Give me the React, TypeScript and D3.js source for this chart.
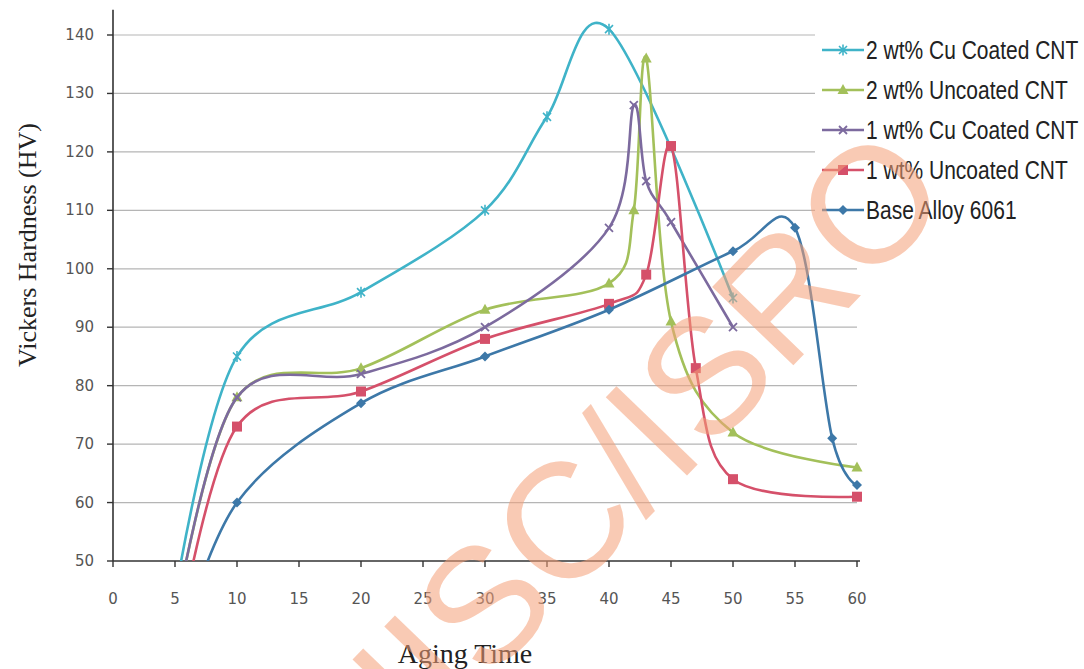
import React from 'react';
import * as d3 from 'd3';

const width = 1084, height = 669;
const margin = { top: 35, right: 227, bottom: 108, left: 113 };

// tick values
const xTicks = [0, 5, 10, 15, 20, 25, 30, 35, 40, 45, 50, 55, 60];
const yTicks = [50, 60, 70, 80, 90, 100, 110, 120, 130, 140];
const gridTicks = [60, 70, 80, 90, 100, 110, 120, 130, 140];

// series values: [aging time, hardness]
const cuCoated2: [number, number][] = [[5, 44], [10, 85], [20, 96], [30, 110], [35, 126], [40, 141], [50, 95]];
const uncoated2: [number, number][] = [[5, 40], [10, 78], [20, 83], [30, 93], [40, 97.5], [42, 110], [43, 136], [45, 91], [50, 72], [60, 66]];
const cuCoated1: [number, number][] = [[5, 40], [10, 78], [20, 82], [30, 90], [40, 107], [42, 128], [43, 115], [45, 108], [50, 90]];
const uncoated1: [number, number][] = [[5, 34], [10, 73], [20, 79], [30, 88], [40, 94], [43, 99], [45, 121], [47, 83], [50, 64], [60, 61]];
const base6061: [number, number][] = [[5, 33], [10, 60], [20, 77], [30, 85], [40, 93], [50, 103], [55, 107], [58, 71], [60, 63]];

const seriesNames = ['2 wt% Cu Coated CNT', '2 wt% Uncoated CNT', '1 wt% Cu Coated CNT', '1 wt% Uncoated CNT', 'Base Alloy 6061'];

const series = [
    { name: seriesNames[0], data: cuCoated2, color: '#3fb3c8', marker: 'star' },
    { name: seriesNames[1], data: uncoated2, color: '#a3c05a', marker: 'triangle' },
    { name: seriesNames[2], data: cuCoated1, color: '#7c6a9e', marker: 'x' },
    { name: seriesNames[3], data: uncoated1, color: '#d5506a', marker: 'square' },
    { name: seriesNames[4], data: base6061, color: '#3d78a8', marker: 'diamond' },
];

const x = d3.scaleLinear().domain([0, 60]).range([margin.left, 857]);
const y = d3.scaleLinear().domain([50, 140]).range([height - margin.bottom, margin.top]);

// Excel-style smoothing (uniform Catmull-Rom)
const line = d3.line<[number, number]>()
    .x((d) => x(d[0]))
    .y((d) => y(d[1]))
    .curve(d3.curveCatmullRom.alpha(0));

const Marker = ({ type, cx, cy, color }: { type: string; cx: number; cy: number; color: string }) => {
    if (type === 'square') return <rect x={cx - 5} y={cy - 5} width={10} height={10} fill={color} />;
    if (type === 'diamond') return <path d={`M${cx},${cy - 5}L${cx + 5},${cy}L${cx},${cy + 5}L${cx - 5},${cy}Z`} fill={color} />;
    if (type === 'triangle') return <path d={`M${cx},${cy - 6}L${cx + 5.5},${cy + 4}L${cx - 5.5},${cy + 4}Z`} fill={color} />;
    if (type === 'x') return <path d={`M${cx - 4},${cy - 4}L${cx + 4},${cy + 4}M${cx + 4},${cy - 4}L${cx - 4},${cy + 4}`} stroke={color} strokeWidth={1.8} />;
    // star: x plus vertical stroke
    return <path d={`M${cx - 4},${cy - 4}L${cx + 4},${cy + 4}M${cx + 4},${cy - 4}L${cx - 4},${cy + 4}M${cx},${cy - 5.5}L${cx},${cy + 5.5}`} stroke={color} strokeWidth={1.6} />;
};

const App = () => {
    const x0 = x(0), x1 = x(60), yBottom = y(50);
    const legendX = 822, legendY = 50, legendGap = 40;
    return (
        <svg width={width} height={height} style={{ position: 'absolute', left: 0, top: 0, background: '#fff' }}>
            <defs>
                <clipPath id="plot">
                    <rect x={x0} y={0} width={x1 - x0 + 10} height={yBottom} />
                </clipPath>
            </defs>
            {/* gridlines */}
            {gridTicks.map((t) => (
                <line key={t} x1={x0} x2={x1} y1={y(t)} y2={y(t)} stroke="#b5b5b5" strokeWidth={1.2} />
            ))}
            {/* axes */}
            <line x1={x0} x2={x0} y1={y(144.3)} y2={yBottom} stroke="#333" strokeWidth={1.6} />
            <line x1={x0} x2={x1 + 3} y1={yBottom} y2={yBottom} stroke="#333" strokeWidth={1.6} />
            {yTicks.map((t) => (
                <g key={t}>
                    <line x1={x0 - 6} x2={x0} y1={y(t)} y2={y(t)} stroke="#333" strokeWidth={1.4} />
                    <text x={x0 - 19} y={y(t) + 5} textAnchor="end" fontSize={15} fill="#555"
                        fontFamily="'DejaVu Sans', sans-serif">{t}</text>
                </g>
            ))}
            {xTicks.map((t) => (
                <g key={t}>
                    <line x1={x(t)} x2={x(t)} y1={yBottom} y2={yBottom + 6} stroke="#333" strokeWidth={1.4} />
                    <text x={x(t)} y={yBottom + 43} textAnchor="middle" fontSize={15} fill="#555"
                        fontFamily="'DejaVu Sans', sans-serif">{t}</text>
                </g>
            ))}
            {/* series */}
            <g clipPath="url(#plot)">
                {series.map((s) => (
                    <g key={s.name}>
                        <path d={line(s.data) || ''} fill="none" stroke={s.color} strokeWidth={2.6} />
                        {s.data.map((d, i) => (
                            <Marker key={i} type={s.marker} cx={x(d[0])} cy={y(d[1])} color={s.color} />
                        ))}
                    </g>
                ))}
            </g>
            {/* legend */}
            <rect x={815} y={26} width={269} height={204} fill="#fff" />
            {series.map((s, i) => {
                const ly = legendY + i * legendGap;
                return (
                    <g key={s.name}>
                        <line x1={legendX} x2={legendX + 42} y1={ly} y2={ly} stroke={s.color} strokeWidth={2.6} />
                        <Marker type={s.marker} cx={legendX + 21} cy={ly} color={s.color} />
                        <text transform={`translate(${legendX + 44},${ly + 9}) scale(0.84,1)`} fontSize={25} fill="#222"
                            fontFamily="'Liberation Sans', sans-serif">{s.name}</text>
                    </g>
                );
            })}
            {/* axis titles */}
            <text transform="translate(36,245) rotate(-90)" textAnchor="middle" fontSize={26} fill="#222"
                fontFamily="'Liberation Serif', serif">Vickers Hardness (HV)</text>
            <text x={465} y={663} textAnchor="middle" fontSize={28} fill="#222"
                fontFamily="'Liberation Serif', serif">Aging Time</text>
            {/* watermark */}
            <text x={955} y={198} transform="rotate(-46 955 198)" textAnchor="end" fontSize={164}
                fill="rgb(245,160,120)" opacity={0.55} fontFamily="'Liberation Sans', sans-serif">IISC/ISRO</text>
        </svg>
    );
};

export default App;
